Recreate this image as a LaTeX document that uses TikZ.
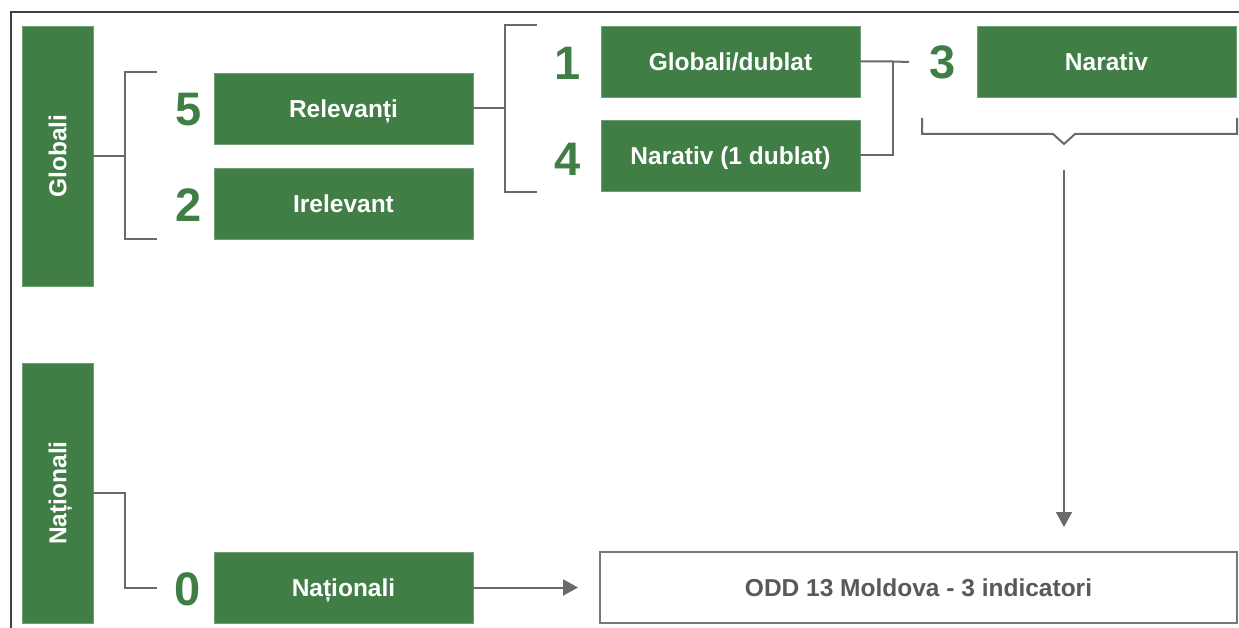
\documentclass[tikz,border=0pt]{standalone}
\usepackage{fontspec}
\setmainfont{Liberation Sans}
\usetikzlibrary{arrows.meta}
\definecolor{grn}{RGB}{64,126,70}
\definecolor{lngray}{RGB}{105,105,105}
\definecolor{framegray}{RGB}{64,64,64}
\definecolor{txtgray}{RGB}{89,89,89}
\definecolor{boxline}{RGB}{120,120,120}
\begin{document}
\begin{tikzpicture}[x=1pt,y=-1pt,
  gbox/.style={fill=grn, draw=grn!75!white, line width=0.8pt, text=white,
    font=\bfseries\fontsize{24.5}{29}\selectfont, inner sep=0pt,
    text height=17.5pt, text depth=0pt,
    minimum width=259pt, minimum height=71pt},
  vbar/.style={gbox, rotate=90, minimum width=260pt, minimum height=71pt},
  num/.style={text=grn, font=\bfseries\fontsize{47}{50}\selectfont, inner sep=0pt,
    text height=33.5pt, text depth=0pt},
  conn/.style={draw=lngray, line width=2pt},
  arr/.style={conn, -{Triangle[length=15pt,width=16pt]}},
  outbox/.style={draw=boxline, line width=2pt, fill=white, text=txtgray,
    font=\bfseries\fontsize{24.5}{29}\selectfont, inner sep=0pt,
    text height=17.5pt, text depth=0pt,
    minimum width=637pt, minimum height=71pt}]
\useasboundingbox (0,0) rectangle (1239,628);
\fill[white] (0,0) rectangle (1239,628);
% frame
\coordinate (fbl) at (11,628);
\coordinate (ftl) at (11,12);
\coordinate (ftr) at (1239,12);
\draw[framegray, line width=1.6pt] (fbl) -- (ftl) -- (ftr);

% vertical bars
\node[vbar] (glob) at (57.5,156) {Globali};
\node[vbar] (nat) at (57.5,493) {Naționali};

% boxes
\node[gbox] (rel) at (343.5,108.5) {Relevanți};
\node[gbox] (irel) at (343.5,203.5) {Irelevant};
\node[gbox] (natb) at (343.5,587.5) {Naționali};
\node[gbox] (gd) at (730.5,61.5) {Globali/dublat};
\node[gbox] (nd) at (730.5,155.5) {Narativ (1 dublat)};
\node[gbox] (nar) at (1106.5,61.5) {Narativ};
\node[outbox] (odd) at (918.5,587.5) {ODD 13 Moldova - 3 indicatori};

% numbers
\node[num] (n5) at (189,109) {5};
\node[num] (n2) at (189,205) {2};
\node[num] (n0) at (188,589) {0};
\node[num] (n1) at (568,63) {1};
\node[num] (n4) at (568,159) {4};
\node[num] (n3) at (942.5,62) {3};

% bracket Globali
\coordinate (b1m) at (125,156);
\coordinate (b1t) at (157,72);
\coordinate (b1b) at (157,239);
\draw[conn] (glob.south) -- (b1m);
\draw[conn] (b1t) -- (125,72) -- (125,239) -- (b1b);

% Nationali connector
\coordinate (c0) at (157,588);
\draw[conn] (nat.south) -- (125,493) -- (125,588) -- (c0);

% bracket Relevanti
\coordinate (b2m) at (505,108.5);
\coordinate (b2t) at (537,25);
\coordinate (b2b) at (537,192);
\draw[conn] (rel.east) -- (b2m);
\draw[conn] (b2t) -- (505,25) -- (505,192) -- (b2b);

% bracket 3
\coordinate (b3e) at (909,62);
\draw[conn] (gd.east) -- (893,61.5) -- (b3e);
\draw[conn] (nd.east) -- (893,155.5) -- (893,61.5);

% brace under Narativ
\coordinate (brl) at (922,118);
\coordinate (brr) at (1237,118);
\coordinate (brtip) at (1064,144);
\draw[conn, line join=miter] (brl) -- (922,134) -- (1053,134) -- (brtip) -- (1075,134) -- (1237,134) -- (brr);

% arrows
\coordinate (astart) at (1064,170);
\draw[arr] (astart) -- (1064,527);
\coordinate (aend) at (578,587.5);
\draw[arr] (natb.east) -- (aend);
\end{tikzpicture}
\end{document}
